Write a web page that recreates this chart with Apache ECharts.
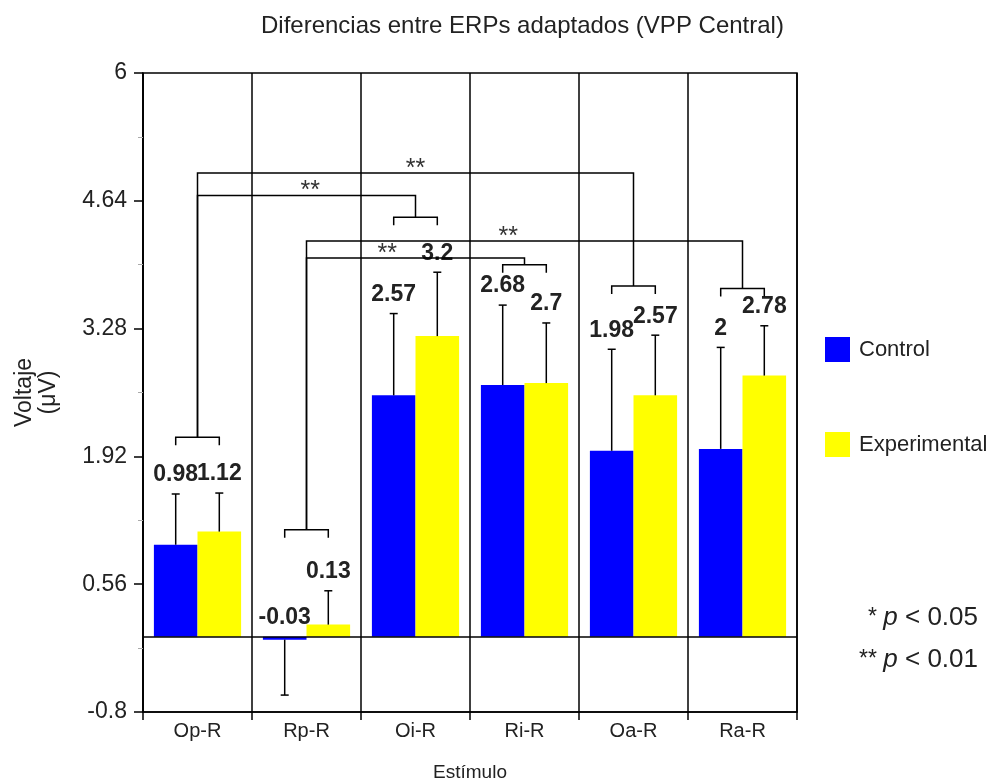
<!DOCTYPE html>
<html>
<head>
<meta charset="utf-8">
<script src="https://cdn.jsdelivr.net/npm/echarts@6/dist/echarts.min.js"></script>
<style>
  html, body { margin: 0; padding: 0; background: #fff; overflow: hidden; }
  #chart { width: 993px; height: 784px; }
</style>
</head>
<body>
<div id="chart"></div>
<script>
// ---- data ----
const categories = ['Op-R', 'Rp-R', 'Oi-R', 'Ri-R', 'Oa-R', 'Ra-R'];
const controlMean = [0.98, -0.03, 2.57, 2.68, 1.98, 2];
const experimentalMean = [1.12, 0.13, 3.2, 2.7, 2.57, 2.78];
const controlErr = [0.54, 0.59, 0.87, 0.85, 1.08, 1.08];
const experimentalErr = [0.41, 0.36, 0.68, 0.64, 0.64, 0.53];
const yTicks = [-0.8, 0.56, 1.92, 3.28, 4.64, 6];

// pairwise comparisons between stimuli (index into categories)
const compFrom = [0, 0, 1, 1];
const compTo = [4, 2, 5, 3];
const compLevel = [4.935, 4.697, 4.213, 4.03];
const compMark = ['**', '**', '**', '**'];
// height (µV) of the bracket joining each stimulus pair of bars
const bracketLevel = [2.124, 1.139, 4.465, 3.96, 3.733, 3.707];

// ---- layout constants ----
const FONT = '"Liberation Sans", Arial, sans-serif';
const INK = '#222';
const LINE_W = 1.5;
const STAR_POS = [2.5, 1.535, 3.35, 2.24];   // x position (category units) of each "**"
const TICK_DROP = 8;                          // bracket end-tick length, px
const CAP = 4;                                // error cap half width, px

const chart = echarts.init(document.getElementById('chart'), null, { renderer: 'canvas' });

const errData = [];
categories.forEach((c, i) => {
  errData.push([i, 0, controlMean[i], controlErr[i]]);
  errData.push([i, 1, experimentalMean[i], experimentalErr[i]]);
});

function renderError(params, api) {
  const i = api.value(0), g = api.value(1), mean = api.value(2), err = api.value(3);
  const x = i + (g === 0 ? 0.3 : 0.7);
  const end = mean >= 0 ? mean + err : mean - err;
  const p0 = api.coord([x, mean]);
  const p1 = api.coord([x, end]);
  const labelAt = api.coord([x, mean >= 0 ? end : 0]);
  return {
    type: 'group',
    children: [
      { type: 'line', shape: { x1: p0[0], y1: p0[1], x2: p1[0], y2: p1[1] },
        style: { stroke: '#000', lineWidth: LINE_W } },
      { type: 'line', shape: { x1: p1[0] - CAP, y1: p1[1], x2: p1[0] + CAP, y2: p1[1] },
        style: { stroke: '#000', lineWidth: LINE_W } },
      { type: 'text', x: labelAt[0], y: labelAt[1] - 19,
        style: { text: String(mean), fill: INK, font: 'bold 23px ' + FONT,
                 align: 'center', verticalAlign: 'middle' } }
    ]
  };
}

function renderBracket(params, api) {
  const i = api.value(0), lvl = api.value(1);
  const l = api.coord([i + 0.3, lvl]);
  const r = api.coord([i + 0.7, lvl]);
  return {
    type: 'polyline',
    shape: { points: [[l[0], l[1] + TICK_DROP], l, r, [r[0], r[1] + TICK_DROP]] },
    style: { stroke: '#000', lineWidth: LINE_W, fill: null }
  };
}

function renderComparison(params, api) {
  const k = params.dataIndex;
  const a = compFrom[k], b = compTo[k], lvl = compLevel[k];
  const pA = api.coord([a + 0.5, bracketLevel[a]]);
  const pATop = api.coord([a + 0.5, lvl]);
  const pBTop = api.coord([b + 0.5, lvl]);
  const pB = api.coord([b + 0.5, bracketLevel[b]]);
  const star = api.coord([STAR_POS[k], lvl]);
  return {
    type: 'group',
    children: [
      { type: 'polyline', shape: { points: [pA, pATop, pBTop, pB] },
        style: { stroke: '#000', lineWidth: LINE_W, fill: null } },
      { type: 'text', x: star[0], y: star[1] - 4,
        style: { text: compMark[k], fill: '#333', font: '25px ' + FONT,
                 align: 'center', verticalAlign: 'middle' } }
    ]
  };
}

function pText(stars, threshold, top) {
  return {
    type: 'text', right: 15, top: top,
    style: {
      text: '{s|' + stars + ' }{i|p}{n| < ' + threshold + '}',
      fill: INK,
      rich: {
        s: { fontFamily: FONT, fontSize: 23, fill: INK },
        i: { fontFamily: FONT, fontSize: 26, fontStyle: 'italic', fill: INK },
        n: { fontFamily: FONT, fontSize: 26, fill: INK }
      }
    }
  };
}

const option = {
  animation: false,
  backgroundColor: '#fff',
  title: {
    text: 'Diferencias entre ERPs adaptados (VPP Central)',
    left: 256, top: 9,
    textStyle: { fontFamily: FONT, fontSize: 24, fontWeight: 'normal', color: INK }
  },
  legend: {
    data: ['Control', 'Experimental'],
    orient: 'vertical',
    left: 825, top: 337,
    padding: 0,
    itemWidth: 25, itemHeight: 25, itemGap: 70,
    icon: 'rect',
    textStyle: { fontFamily: FONT, fontSize: 22, color: INK, padding: [0, 0, 0, 4] }
  },
  grid: {
    left: 143, right: 196, top: 73, bottom: 72,
    outerBoundsMode: 'none',
    containLabel: false,
    show: true, borderColor: '#000', borderWidth: LINE_W, backgroundColor: 'transparent'
  },
  xAxis: [
    {
      type: 'category',
      data: categories,
      name: 'Estímulo',
      nameLocation: 'middle',
      nameGap: 51,
      nameTextStyle: { fontFamily: FONT, fontSize: 19, color: INK },
      axisLine: { onZero: false, lineStyle: { color: '#000', width: LINE_W } },
      axisTick: { show: true, interval: 0, length: 8, lineStyle: { color: '#000', width: LINE_W } },
      splitLine: { show: true, interval: 0, lineStyle: { color: '#000', width: LINE_W } },
      axisLabel: { interval: 0, margin: 9, fontFamily: FONT, fontSize: 20, color: INK }
    },
    { type: 'value', min: 0, max: categories.length, show: false }
  ],
  yAxis: {
    type: 'value',
    min: yTicks[0],
    max: yTicks[yTicks.length - 1],
    interval: yTicks[1] - yTicks[0],
    name: 'Voltaje\n(μV)',
    nameLocation: 'middle',
    nameRotate: 90,
    nameGap: 82,
    nameTextStyle: { fontFamily: FONT, fontSize: 23, color: INK, lineHeight: 24 },
    axisLine: { show: true, lineStyle: { color: '#000', width: LINE_W } },
    axisTick: { show: true, length: 9, lineStyle: { color: '#000', width: LINE_W } },
    minorTick: { show: true, splitNumber: 2, length: 5, lineStyle: { color: '#aaa', width: 1 } },
    splitLine: { show: false },
    axisLabel: {
      margin: 16, fontFamily: FONT, fontSize: 23, color: INK,
      formatter: v => String(+v.toFixed(2))
    }
  },
  series: [
    {
      name: 'Control', type: 'bar', data: controlMean,
      barGap: '0%', barCategoryGap: '20%',
      itemStyle: { color: '#0000ff' },
      markLine: {
        silent: true, symbol: 'none', label: { show: false },
        lineStyle: { color: '#000', width: LINE_W, type: 'solid' },
        data: [{ yAxis: 0 }]
      }
    },
    {
      name: 'Experimental', type: 'bar', data: experimentalMean,
      barGap: '0%', barCategoryGap: '20%',
      itemStyle: { color: '#ffff00' }
    },
    {
      type: 'custom', xAxisIndex: 1, yAxisIndex: 0, z: 5,
      renderItem: renderError, data: errData, silent: true
    },
    {
      type: 'custom', xAxisIndex: 1, yAxisIndex: 0, z: 5,
      renderItem: renderBracket, data: bracketLevel.map((v, i) => [i, v]), silent: true
    },
    {
      type: 'custom', xAxisIndex: 1, yAxisIndex: 0, z: 5,
      renderItem: renderComparison, data: compLevel.map((v, k) => [compFrom[k], v]), silent: true
    }
  ],
  graphic: [
    pText('*', '0.05', 605),
    pText('**', '0.01', 647)
  ]
};

chart.setOption(option);
</script>
</body>
</html>
